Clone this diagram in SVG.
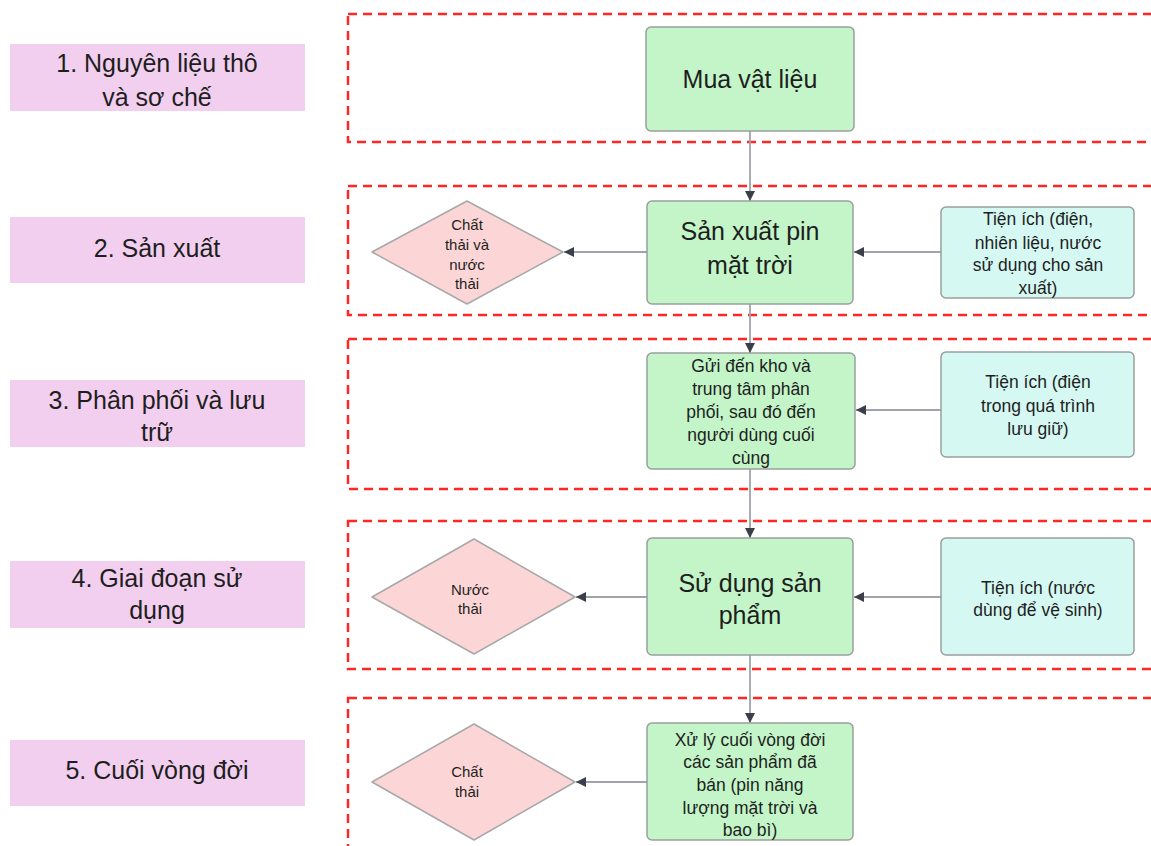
<svg xmlns="http://www.w3.org/2000/svg" width="1151" height="846" viewBox="0 0 1151 846">
<defs>
<marker id="ah" viewBox="0 0 10 10" refX="10" refY="5" markerWidth="10" markerHeight="10" markerUnits="userSpaceOnUse" orient="auto">
<path d="M0,0 L10,5 L0,10 Z" fill="#3b3f4a"/>
</marker>
<style>
text{font-family:"Liberation Sans",Arial,sans-serif;fill:#1e1e1e;text-anchor:middle}
.lbl rect{fill:#f2cfee}
.lbl text{font-size:25px}
.zone{fill:none;stroke:#ff2626;stroke-width:2.5;stroke-dasharray:9 6}
.proc rect{fill:#c3f5c8;stroke:#9a9e9c;stroke-width:1.5}
.util rect{fill:#d6f8f2;stroke:#9a9e9c;stroke-width:1.5}
.dia path{fill:#fcd6d6;stroke:#a8a8a8;stroke-width:1.5}
.big{font-size:25px}
.mid{font-size:17.5px}
.sm{font-size:15px}
.conn line{stroke:#a0a4aa;stroke-width:1.8;marker-end:url(#ah)}
</style>
</defs>
<rect width="1151" height="846" fill="#ffffff"/>

<g id="zones">
<rect class="zone" x="348" y="14" width="830" height="128"/>
<rect class="zone" x="348" y="186" width="830" height="129"/>
<rect class="zone" x="348" y="339" width="830" height="150"/>
<rect class="zone" x="348" y="521" width="830" height="148"/>
<rect class="zone" x="348" y="698" width="830" height="170"/>
</g>

<g id="label1" class="lbl"><rect x="10" y="44" width="295" height="67"/><text x="157" y="72">1. Nguyên liệu thô</text><text x="157" y="106">và sơ chế</text></g>
<g id="label2" class="lbl"><rect x="10" y="217" width="295" height="66"/><text x="157" y="257">2. Sản xuất</text></g>
<g id="label3" class="lbl"><rect x="10" y="380" width="295" height="67"/><text x="157" y="409">3. Phân phối và lưu</text><text x="157" y="441">trữ</text></g>
<g id="label4" class="lbl"><rect x="10" y="561" width="295" height="67"/><text x="157" y="587">4. Giai đoạn sử</text><text x="157" y="619">dụng</text></g>
<g id="label5" class="lbl"><rect x="10" y="740" width="295" height="66"/><text x="157" y="779">5. Cuối vòng đời</text></g>

<g id="connectors" class="conn">
<line x1="750" y1="131" x2="750" y2="201"/>
<line x1="750" y1="304" x2="750" y2="353"/>
<line x1="750" y1="469" x2="750" y2="538"/>
<line x1="750" y1="655" x2="750" y2="723"/>
<line x1="647" y1="252" x2="564" y2="252"/>
<line x1="941" y1="252" x2="854" y2="252"/>
<line x1="941" y1="410" x2="856" y2="410"/>
<line x1="647" y1="597" x2="576" y2="597"/>
<line x1="941" y1="597" x2="854" y2="597"/>
<line x1="647" y1="782" x2="576" y2="782"/>
</g>

<g id="mua" class="proc"><rect x="646" y="27" width="208" height="104" rx="5"/><text class="big" x="750" y="88">Mua vật liệu</text></g>
<g id="sanxuat" class="proc"><rect x="647" y="201" width="206" height="103" rx="5"/><text class="big" x="750" y="240">Sản xuất pin</text><text class="big" x="750" y="274">mặt trời</text></g>
<g id="guiden" class="proc"><rect x="647" y="353" width="208" height="116" rx="5"/>
<text class="mid" x="751" y="372">Gửi đến kho và</text><text class="mid" x="751" y="395">trung tâm phân</text><text class="mid" x="751" y="418">phối, sau đó đến</text><text class="mid" x="751" y="441">người dùng cuối</text><text class="mid" x="751" y="464">cùng</text></g>
<g id="sudung" class="proc"><rect x="647" y="538" width="206" height="117" rx="5"/><text class="big" x="750" y="592">Sử dụng sản</text><text class="big" x="750" y="624">phẩm</text></g>
<g id="xuly" class="proc"><rect x="647" y="723" width="206" height="117" rx="5"/>
<text class="mid" x="750" y="746">Xử lý cuối vòng đời</text><text class="mid" x="750" y="768">các sản phẩm đã</text><text class="mid" x="750" y="791">bán (pin năng</text><text class="mid" x="750" y="814">lượng mặt trời và</text><text class="mid" x="750" y="836">bao bì)</text></g>

<g id="tienich1" class="util"><rect x="941" y="207" width="193" height="91" rx="5"/>
<text class="mid" x="1038" y="225">Tiện ích (điện,</text><text class="mid" x="1038" y="249">nhiên liệu, nước</text><text class="mid" x="1038" y="271">sử dụng cho sản</text><text class="mid" x="1038" y="294">xuất)</text></g>
<g id="tienich2" class="util"><rect x="941" y="352" width="193" height="105" rx="5"/>
<text class="mid" x="1038" y="388">Tiện ích (điện</text><text class="mid" x="1038" y="412">trong quá trình</text><text class="mid" x="1038" y="435">lưu giữ)</text></g>
<g id="tienich3" class="util"><rect x="941" y="538" width="193" height="117" rx="5"/>
<text class="mid" x="1038" y="594">Tiện ích (nước</text><text class="mid" x="1038" y="616">dùng để vệ sinh)</text></g>

<g id="chatthai1" class="dia"><path d="M467,201 L563,252 L467,304 L372,252 Z" stroke-linejoin="round"/>
<text class="sm" x="467" y="230">Chất</text><text class="sm" x="467" y="250">thải và</text><text class="sm" x="467" y="270">nước</text><text class="sm" x="467" y="289">thải</text></g>
<g id="nuocthai" class="dia"><path d="M474,539 L575,597 L474,654 L372,597 Z" stroke-linejoin="round"/>
<text class="sm" x="470" y="595">Nước</text><text class="sm" x="470" y="614">thải</text></g>
<g id="chatthai2" class="dia"><path d="M474,724 L575,782 L474,840 L372,782 Z" stroke-linejoin="round"/>
<text class="sm" x="467" y="777">Chất</text><text class="sm" x="467" y="797">thải</text></g>
</svg>
